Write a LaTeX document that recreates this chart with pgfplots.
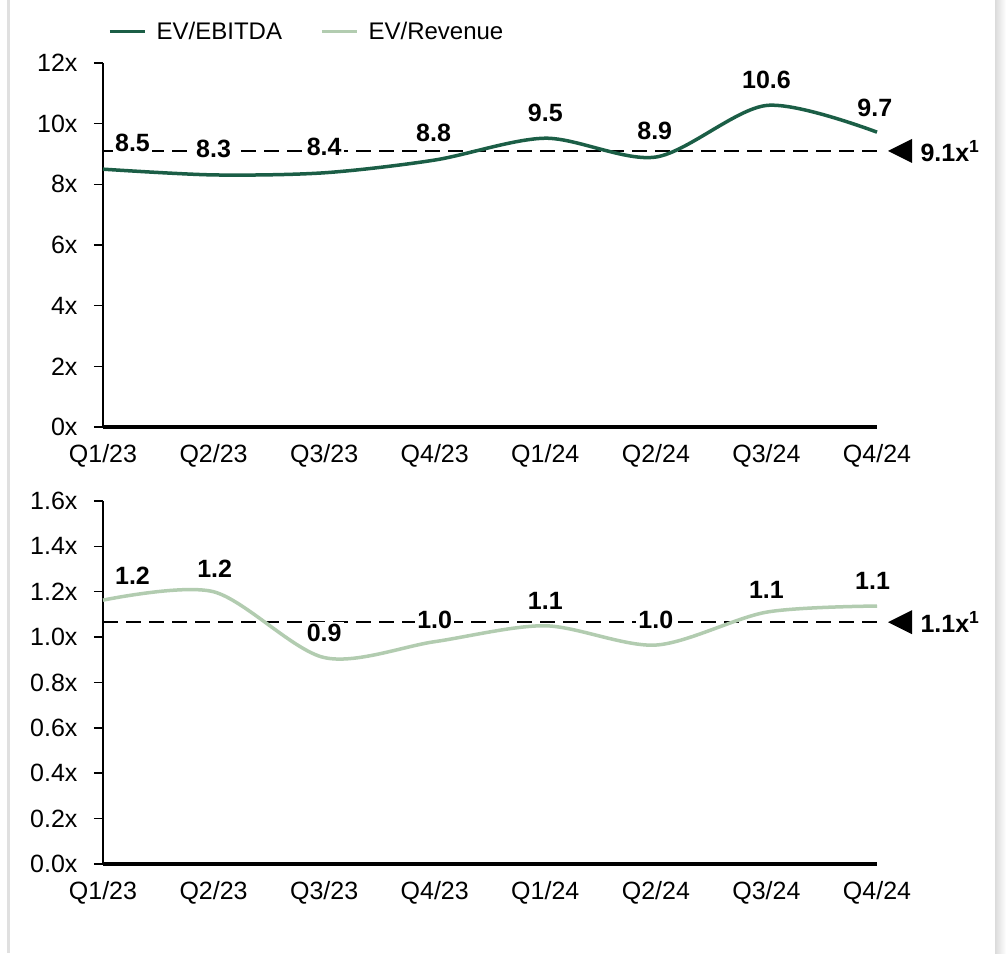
\documentclass[border=0pt]{standalone}
\usepackage{pgfplots}
\pgfplotsset{compat=1.18}
\usepackage{fontspec}
\setmainfont{Liberation Sans}
\definecolor{dkgreen}{RGB}{27,94,70}
\definecolor{ltgreen}{RGB}{178,204,176}
\begin{document}
\begin{tikzpicture}
\useasboundingbox (0pt,0pt) rectangle (1006pt,953pt);
\fill[white] (0pt,0pt) rectangle (1006pt,953pt);
\fill[black!12] (7pt,0pt) rectangle (10pt,953pt);
\shade[left color=black!14, right color=white] (995pt,0pt) rectangle (1006pt,953pt);
\pgfplotsset{
  base/.style={
    scale only axis, width=774pt, xmin=0, xmax=7,
    axis x line*=bottom, axis y line*=left,
    axis line style={-},
    x axis line style={line width=3.5pt},
    y axis line style={line width=1.8pt},
    xtick={0,...,7},
    xticklabels={Q1/23,Q2/23,Q3/23,Q4/23,Q1/24,Q2/24,Q3/24,Q4/24},
    major x tick style={draw=none},
    major y tick style={line width=1.5pt, black},
    tick align=outside, major tick length=9pt,
    xticklabel style={font=\fontsize{25}{29}\selectfont, yshift=-5pt},
    yticklabel style={font=\fontsize{25}{29}\selectfont, xshift=-13pt},
    clip=false,
  },
  dash/.style={black, line width=1.5pt, dash pattern=on 15pt off 8pt},
  lbls/.style={draw=none, mark=none, nodes near coords, point meta=explicit symbolic,
    every node near coord/.append style={anchor=center, fill=white, inner sep=2pt,
      font=\fontsize{25}{29}\selectfont\bfseries}},
}
% top axis
\begin{axis}[base, at={(103pt,526pt)}, anchor=south west, height=364pt,
  ymin=0, ymax=12, ytick={0,2,...,12},
  yticklabels={0x,2x,4x,6x,8x,10x,12x},
  legend style={draw=none, fill=none, at={(0,1)}, anchor=south west,
    xshift=2pt, yshift=18pt, legend columns=2,
    font=\fontsize{24}{28}\selectfont,
    /tikz/every odd column/.append style={column sep=8pt},
    /tikz/every even column/.append style={column sep=36pt}},
  legend image code/.code={\draw[#1] (0pt,0pt) -- (35pt,0pt);},
]
\addplot[dash, forget plot] coordinates {(0,9.1) (7,9.1)};
\addplot[lbls, forget plot] coordinates {
 (0.267,9.38) [8.5] (1.0,9.18) [8.3] (2.0,9.23) [8.4] (2.99,9.68) [8.8]
 (4.0,10.34) [9.5] (4.99,9.76) [8.9] (6.0,11.44) [10.6] (6.98,10.53) [9.7]};
\addplot[dkgreen, line width=3.5pt, smooth] coordinates {
 (0,8.5) (1,8.31) (2,8.38) (3,8.8) (4,9.52) (5,8.9) (6,10.6) (7,9.72)};
\addlegendentry{EV/EBITDA}
\addlegendimage{ltgreen, line width=3.5pt}
\addlegendentry{EV/Revenue}
\fill (axis cs:7,9.1) ++(11pt,0) -- ++(24pt,12pt) -- ++(0,-24pt) -- cycle;
\node[anchor=west, font=\fontsize{25}{29}\selectfont\bfseries] at (axis cs:7,9.1) [xshift=40pt] {9.1x\textsuperscript{1}};
\end{axis}
% bottom axis
\begin{axis}[base, at={(103pt,89pt)}, anchor=south west, height=363pt,
  ymin=0, ymax=1.6, ytick={0,0.2,0.4,0.6,0.8,1.0,1.2,1.4,1.6},
  yticklabels={0.0x,0.2x,0.4x,0.6x,0.8x,1.0x,1.2x,1.4x,1.6x},
]
\addplot[dash] coordinates {(0,1.066) (7,1.066)};
\addplot[lbls] coordinates {
 (0.267,1.27) [1.2] (1.01,1.30) [1.2] (2.0,1.02) [0.9] (3.0,1.075) [1.0]
 (4.0,1.16) [1.1] (5.0,1.075) [1.0] (6.0,1.21) [1.1] (6.96,1.25) [1.1]};
\addplot[ltgreen, line width=3.5pt, smooth] coordinates {
 (0,1.163) (1,1.20) (2,0.91) (3,0.98) (4,1.05) (5,0.965) (6,1.11) (7,1.137)};
\fill (axis cs:7,1.066) ++(11pt,0) -- ++(24pt,12pt) -- ++(0,-24pt) -- cycle;
\node[anchor=west, font=\fontsize{25}{29}\selectfont\bfseries] at (axis cs:7,1.066) [xshift=40pt] {1.1x\textsuperscript{1}};
\end{axis}
\end{tikzpicture}
\end{document}
